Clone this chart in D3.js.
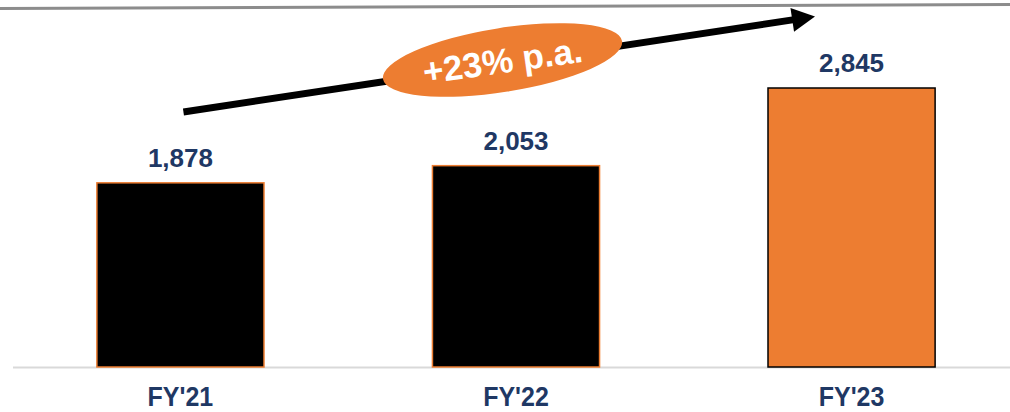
<!DOCTYPE html>
<html>
<head>
<meta charset="utf-8">
<script src="https://cdn.jsdelivr.net/npm/d3@7"></script>
<style>
    html, body { margin: 0; padding: 0; background: #fff; }
    #demo { width: 1010px; height: 412px; overflow: hidden; }
</style>
</head>
<body>
<div id="demo"></div>
<script>
// chart data
const categories = ["FY'21", "FY'22", "FY'23"];
const values = [1878, 2053, 2845];
const highlight = [false, false, true];
const growthLabel = "+23% p.a.";

const orange = "#ED7D31";
const navy = "#1F3864";
const font = "'Liberation Sans', Arial, sans-serif";

let w = 1010;
let h = 412;

let svg = d3.select("#demo")
    .append("svg")
    .attr("width", w)
    .attr("height", h);

// x band scale for the three years
let x = d3.scaleBand()
    .domain(categories)
    .range([13, 1019])
    .paddingInner(0.502)
    .paddingOuter(0.25);

// y linear scale, zero sits on the baseline
let y = d3.scaleLinear()
    .domain([0, d3.max(values)])
    .range([367, 88]);

//Gray rule across the top
svg.append("line")
    .attr("x1", 0).attr("y1", 8.5)
    .attr("x2", w).attr("y2", 4.5)
    .attr("stroke", "#8c8c8c")
    .attr("stroke-width", 3);

//Baseline
svg.append("line")
    .attr("x1", 13).attr("y1", y(0) + 0.5)
    .attr("x2", w).attr("y2", y(0) + 0.5)
    .attr("stroke", "#d9d9d9")
    .attr("stroke-width", 2);

//Bars
svg.selectAll("rect.bar")
    .data(values)
    .enter()
    .append("rect")
    .attr("class", "bar")
    .attr("x", (d, i) => x(categories[i]))
    .attr("y", (d) => y(d))
    .attr("width", x.bandwidth())
    .attr("height", (d) => y(0) - y(d))
    .attr("fill", (d, i) => highlight[i] ? orange : "#000")
    .attr("stroke", (d, i) => highlight[i] ? "#000" : orange)
    .attr("stroke-width", 1.5);

//Value labels
svg.selectAll("text.value")
    .data(values)
    .enter()
    .append("text")
    .attr("class", "value")
    .attr("x", (d, i) => x(categories[i]) + x.bandwidth() / 2)
    .attr("y", (d) => y(d) - 16)
    .attr("text-anchor", "middle")
    .attr("font-family", font)
    .attr("font-weight", "bold")
    .attr("font-size", 26)
    .attr("fill", navy)
    .text((d) => d3.format(",")(d));

//Category labels (slightly condensed, like the original)
svg.selectAll("text.cat")
    .data(categories)
    .enter()
    .append("text")
    .attr("class", "cat")
    .attr("transform", (d) => "translate(" + (x(d) + x.bandwidth() / 2) + ",406) scale(1,1.1)")
    .attr("text-anchor", "middle")
    .attr("font-family", font)
    .attr("font-weight", "bold")
    .attr("font-size", 25)
    .attr("fill", navy)
    .text((d) => d);

//Growth arrow, rising from above the first bar to above the last one
let start = [x(categories[0]) + x.bandwidth() / 2 + 3, 112];
let tip = [815, 16.5];
let ang = Math.atan2(tip[1] - start[1], tip[0] - start[0]);
let ux = Math.cos(ang), uy = Math.sin(ang);
let headLen = 23, headHalf = 12;
let base = [tip[0] - headLen * ux, tip[1] - headLen * uy];

svg.append("line")
    .attr("x1", start[0]).attr("y1", start[1])
    .attr("x2", base[0] + ux * 2).attr("y2", base[1] + uy * 2)
    .attr("stroke", "#000")
    .attr("stroke-width", 7);

svg.append("polygon")
    .attr("points", [
        tip,
        [base[0] - uy * headHalf, base[1] + ux * headHalf],
        [base[0] + uy * headHalf, base[1] - ux * headHalf]
    ].map((p) => p.join(",")).join(" "))
    .attr("fill", "#000");

//Orange bubble with the growth rate
const bubble = svg.append("g")
    .attr("transform", "translate(502.5,60)");

bubble.append("ellipse")
    .attr("rx", 121)
    .attr("ry", 32)
    .attr("transform", "rotate(-9)")
    .attr("fill", orange);

bubble.append("text")
    .attr("x", 0)
    .attr("y", 0)
    .attr("transform", "rotate(-8) translate(0,13)")
    .attr("text-anchor", "middle")
    .attr("font-family", font)
    .attr("font-weight", "bold")
    .attr("font-size", 35)
    .attr("fill", "#fff")
    .text(growthLabel);
</script>
</body>
</html>
